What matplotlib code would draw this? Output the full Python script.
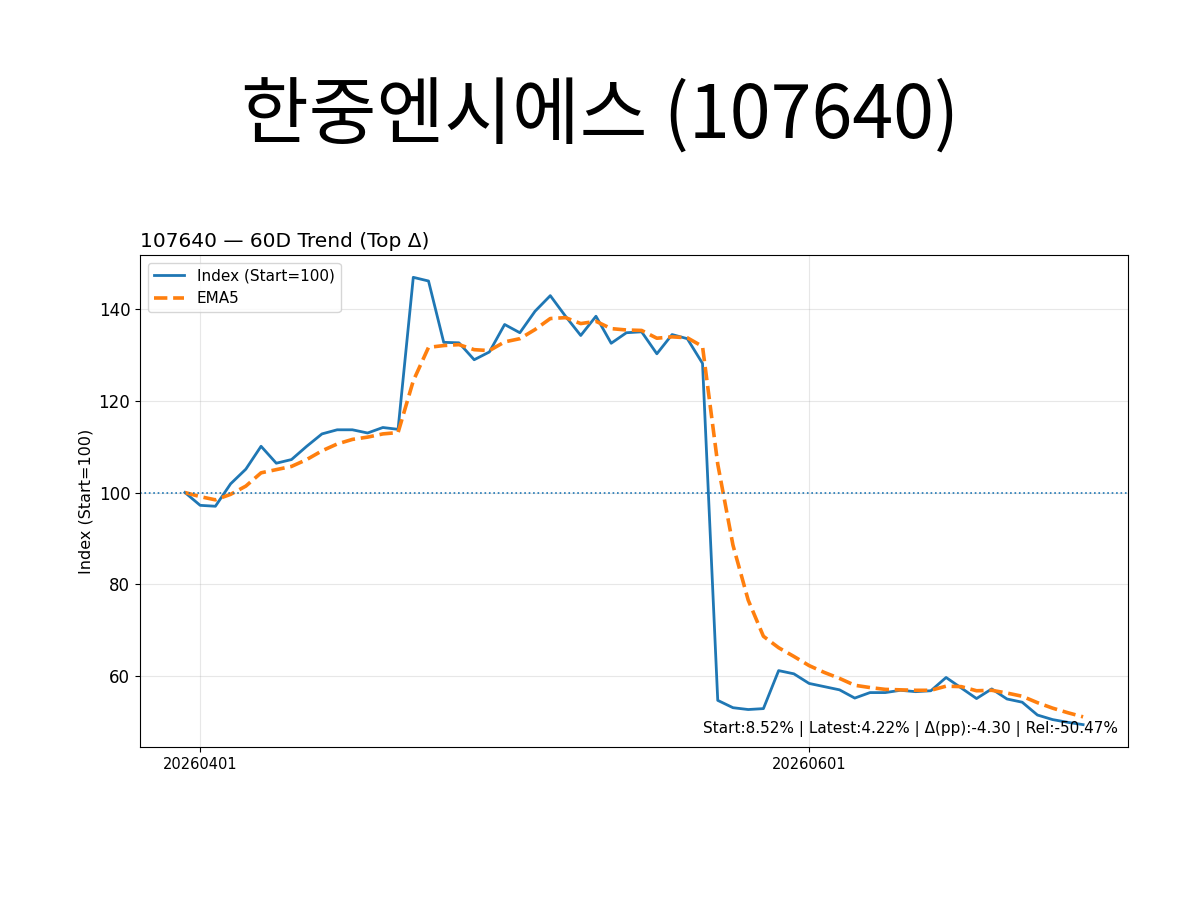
import matplotlib as mpl

mpl.use('Agg')

import matplotlib.pyplot as plt

plt.rcParams['font.family'] = ['DejaVu Sans']

# data (60 trading days, index start = 100)
tick_pos = [1, 41]
tick_labels = ['20260401', '20260601']

index_vals = [100.0, 97.2, 97.0, 101.9, 105.1, 110.1, 106.4, 107.2, 110.1, 112.8,
              113.7, 113.7, 113.0, 114.2, 113.8, 147.0, 146.2, 132.8, 132.7, 129.0,
              130.7, 136.7, 134.9, 139.6, 143.0, 138.5, 134.3, 138.5, 132.6, 134.9,
              135.1, 130.3, 134.5, 133.6, 128.2, 54.6, 53.0, 52.6, 52.8, 61.1,
              60.4, 58.3, 57.6, 56.9, 55.1, 56.3, 56.3, 56.8, 56.5, 56.7,
              59.6, 57.3, 55.0, 57.1, 54.9, 54.2, 51.4, 50.4, 49.8, 49.3]

ema5_vals = [100.0, 99.1, 98.4, 99.6, 101.4, 104.3, 105.0, 105.7, 107.2, 109.1,
             110.6, 111.6, 112.1, 112.8, 113.1, 124.4, 131.7, 132.1, 132.3, 131.2,
             131.0, 132.9, 133.6, 135.6, 138.0, 138.2, 136.9, 137.4, 135.8, 135.5,
             135.4, 133.7, 134.0, 133.8, 131.9, 106.2, 88.5, 76.5, 68.6, 66.1,
             64.2, 62.2, 60.7, 59.4, 57.9, 57.4, 57.0, 56.9, 56.8, 56.8,
             57.7, 57.6, 56.7, 56.8, 56.2, 55.5, 54.1, 52.9, 51.9, 51.0]

stats_text = 'Start:8.52% | Latest:4.22% | \u0394(pp):-4.30 | Rel:-50.47%'

x = list(range(len(index_vals)))

fig = plt.figure(figsize=(12, 9), dpi=100)

# slide title
fig.text(0.5, 0.869, '한중엔시에스 (107640)', ha='center', va='center',
         fontsize=53, family=['Noto Sans CJK KR', 'DejaVu Sans'])

ax = fig.add_axes([0.1167, 0.17, 0.8233, 0.5467])

ax.plot(x, index_vals, color='#1f77b4', linewidth=2.0, label='Index (Start=100)')
ax.plot(x, ema5_vals, color='#ff7f0e', linewidth=2.6, linestyle='--', label='EMA5')
ax.axhline(100, color='#1f77b4', linestyle=':', linewidth=1.2)

# grid
ax.grid(True, alpha=0.3)

ax.set_xticks(tick_pos)
ax.set_xticklabels(tick_labels, fontsize=10.5)
ax.tick_params(axis='y', labelsize=12)
ax.set_yticks([60, 80, 100, 120, 140])

ax.set_ylabel('Index (Start=100)', fontsize=11.5)
ax.set_title('107640 \u2014 60D Trend (Top \u0394)', loc='left', fontsize=14.5)
ax.legend(loc='upper left', fontsize=11)

ax.text(0.99, 0.02, stats_text, transform=ax.transAxes, ha='right', va='bottom',
        fontsize=11)

plt.savefig('out.png', dpi=100)
